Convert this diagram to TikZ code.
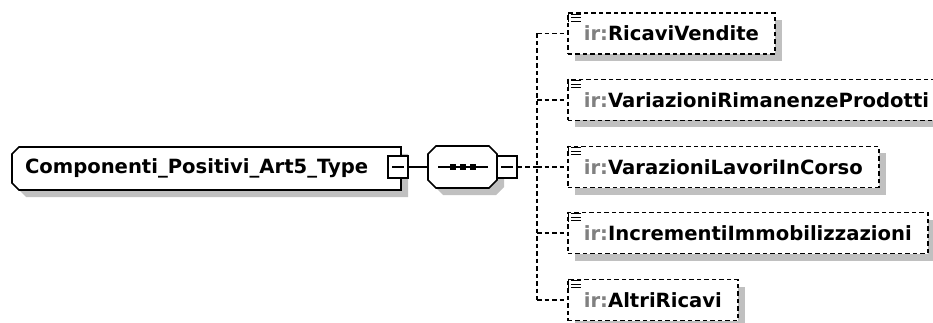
\documentclass[tikz,border=0pt]{standalone}
\usepackage{fontspec}
\setmainfont{DejaVu Sans}
\usetikzlibrary{calc,shadows}
\definecolor{shadowgray}{HTML}{C0C0C0}
\definecolor{irgray}{HTML}{808080}
\tikzset{
  lw/.style={line width=1.7pt},
  dsh/.style={lw, dash pattern=on 4.5pt off 3pt},
  txt/.style={font=\fontsize{19.6}{22}\selectfont\bfseries},
  childbox/.style={txt, draw, dsh, fill=white, anchor=west, minimum height=41pt,
    inner xsep=16pt, inner ysep=0pt,
    drop shadow={shadow xshift=7pt, shadow yshift=-7pt, fill=shadowgray, opacity=1}},
  pmbox/.style={draw, lw, fill=white, minimum width=20pt, minimum height=22pt, inner sep=0pt},
  anchorbox/.style={inner sep=0pt, outer sep=0pt}
}
\newcommand{\childicon}[1]{%
  \draw[line width=1.2pt] ($(#1.north west)+(1.5,0)$) -- ($(#1.north west)+(1.5,10)$);
  \foreach \dy in {2,5.5,9}{
    \draw[line width=1.2pt] ($(#1.north west)+(4,\dy)$) -- ($(#1.north west)+(14,\dy)$);
  }%
}
\begin{document}
\begin{tikzpicture}[x=1pt,y=-1pt]
\useasboundingbox (0,0) rectangle (933,323);
\clip (0,0) rectangle (933,323);
\fill[white] (0,0) rectangle (933,323);

% main node
\fill[shadowgray] (26,154) -- (408,154) -- (408,197) -- (26,197) -- (19,190) -- (19,161) -- cycle;
\draw[lw, fill=white] (19,147) -- (401,147) -- (401,190) -- (19,190) -- (12,183) -- (12,154) -- cycle;
\node[txt, anchorbox, anchor=west, text width=363pt, align=left, inner xsep=13pt, minimum height=43pt] (main) at (12,168.5) {Componenti\_Positivi\_Art5\_Type};
\node[pmbox] (mainpm) at (398,167) {};
\draw[lw] ($(mainpm.center)+(-6,0)$) -- ($(mainpm.center)+(6,0)$);

% sequence node
\fill[shadowgray] (443,153) -- (496,153) -- (504,161) -- (504,187) -- (496,195) -- (443,195) -- (435,187) -- (435,161) -- cycle;
\draw[lw, fill=white] (436,146) -- (489,146) -- (497,154) -- (497,180) -- (489,188) -- (436,188) -- (428,180) -- (428,154) -- cycle;
\node[anchorbox, minimum width=69pt, minimum height=42pt] (seq) at (462.5,167) {};
\draw[lw] (438,167) -- (488,167);
\foreach \xx in {453,463,473} \fill (\xx-3,164) rectangle (\xx+3,170);
\node[pmbox] (seqpm) at (507,167) {};
\draw[lw] ($(seqpm.center)+(-6,0)$) -- ($(seqpm.center)+(6,0)$);

\draw[lw] (mainpm.east) -- (seq.west);

% children
\node[childbox] (c1) at (567,33.5) {{\color{irgray}ir:}RicaviVendite};
\node[childbox] (c2) at (567,100) {{\color{irgray}ir:}VariazioniRimanenzeProdotti};
\node[childbox] (c3) at (567,167) {{\color{irgray}ir:}VarazioniLavoriInCorso};
\node[childbox] (c4) at (567,233) {{\color{irgray}ir:}IncrementiImmobilizzazioni};
\node[childbox] (c5) at (567,300) {{\color{irgray}ir:}AltriRicavi};
\foreach \c in {c1,c2,c3,c4,c5} {\childicon{\c}}

% connectors
\coordinate (junc) at (537,167);
\draw[dsh] (seqpm.east) -- (junc);
\draw[dsh] (junc |- c1.west) -- (junc |- c5.west);
\foreach \c in {c1,c2,c3,c4,c5} {\draw[dsh] (junc |- \c.west) -- (\c.west);}
\end{tikzpicture}
\end{document}
